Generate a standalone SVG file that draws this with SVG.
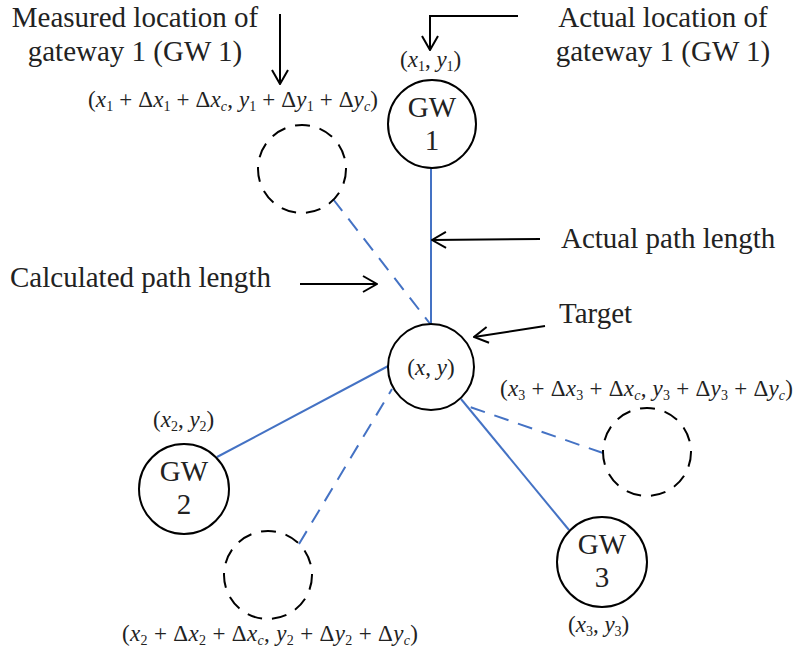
<svg xmlns="http://www.w3.org/2000/svg" width="795" height="653" viewBox="0 0 795 653">
<defs>
<style>
.t{font-family:"Liberation Serif","Times New Roman",serif;font-size:29px;fill:#222}
.m{font-family:"Liberation Serif","Times New Roman",serif;font-size:23px;fill:#222}
.i{font-style:italic}
.s{font-size:14px}
.node{fill:#fff;stroke:#000;stroke-width:2}
.ghost{fill:none;stroke:#000;stroke-width:2;stroke-dasharray:15 10}
.solid{stroke:#4472C4;stroke-width:2;fill:none}
.dash{stroke:#4472C4;stroke-width:2;fill:none;stroke-dasharray:15 10}
.arr{stroke:#000;stroke-width:2;fill:none;marker-end:url(#ah)}
</style>
<marker id="ah" viewBox="0 0 16 20" refX="15" refY="10" markerWidth="16" markerHeight="20" markerUnits="userSpaceOnUse" orient="auto">
<path d="M1,2 L15,10 L1,18" fill="none" stroke="#000" stroke-width="2"/>
</marker>
</defs>
<rect width="795" height="653" fill="#fff"/>

<g id="connectors">
<line class="solid" x1="431" y1="167" x2="431" y2="325"/>
<line class="dash" x1="333" y1="199" x2="431" y2="325"/>
<line class="solid" x1="217" y1="457" x2="392" y2="364"/>
<line class="dash" x1="299" y1="544" x2="392" y2="389"/>
<line class="solid" x1="569" y1="530" x2="461" y2="399"/>
<line class="dash" x1="603" y1="453" x2="470" y2="407"/>
</g>

<g id="annotations">
<line class="arr" x1="280" y1="14" x2="280" y2="84"/>
<polyline class="arr" points="518,16 430,16 430,50"/>
<line class="arr" x1="540" y1="239" x2="432" y2="240"/>
<line class="arr" x1="300" y1="284" x2="377" y2="284"/>
<line class="arr" x1="545" y1="326" x2="474" y2="337"/>
<text class="t" x="135" y="27" text-anchor="middle">Measured location of</text>
<text class="t" x="135" y="61" text-anchor="middle">gateway 1 (GW 1)</text>
<text class="t" x="663" y="27" text-anchor="middle">Actual location of</text>
<text class="t" x="663" y="61" text-anchor="middle">gateway 1 (GW 1)</text>
<text class="t" x="561" y="248">Actual path length</text>
<text class="t" x="10" y="287">Calculated path length</text>
<text class="t" x="559" y="323">Target</text>
</g>

<g id="gw1">
<circle class="node" cx="432" cy="124" r="44"/>
<text class="t" x="432" y="117" text-anchor="middle">GW</text>
<text class="t" x="432" y="150" text-anchor="middle">1</text>
<text class="m" x="400" y="67">(<tspan class="i">x</tspan><tspan class="s" dy="4">1</tspan><tspan dy="-4">, </tspan><tspan class="i">y</tspan><tspan class="s" dy="4">1</tspan><tspan dy="-4">)</tspan></text>
</g>

<g id="gw1-measured">
<circle class="ghost" cx="302" cy="169" r="44"/>
<text class="m" x="88" y="107" textLength="290" lengthAdjust="spacing">(<tspan class="i">x</tspan><tspan class="s" dy="4">1</tspan><tspan dy="-4"> + Δ</tspan><tspan class="i">x</tspan><tspan class="s" dy="4">1</tspan><tspan dy="-4"> + Δ</tspan><tspan class="i">x</tspan><tspan class="i s" dy="4">c</tspan><tspan dy="-4">, </tspan><tspan class="i">y</tspan><tspan class="s" dy="4">1</tspan><tspan dy="-4"> + Δ</tspan><tspan class="i">y</tspan><tspan class="s" dy="4">1</tspan><tspan dy="-4"> + Δ</tspan><tspan class="i">y</tspan><tspan class="i s" dy="4">c</tspan><tspan dy="-4">)</tspan></text>
</g>

<g id="target">
<circle class="node" cx="431" cy="367" r="43"/>
<text class="m" x="431" y="375" text-anchor="middle">(<tspan class="i">x</tspan>, <tspan class="i">y</tspan>)</text>
</g>

<g id="gw2">
<circle class="node" cx="184" cy="489" r="45"/>
<text class="t" x="184" y="481" text-anchor="middle">GW</text>
<text class="t" x="184" y="514" text-anchor="middle">2</text>
<text class="m" x="153" y="427">(<tspan class="i">x</tspan><tspan class="s" dy="4">2</tspan><tspan dy="-4">, </tspan><tspan class="i">y</tspan><tspan class="s" dy="4">2</tspan><tspan dy="-4">)</tspan></text>
</g>

<g id="gw2-measured">
<circle class="ghost" cx="268" cy="575" r="44"/>
<text class="m" x="122" y="641" textLength="296" lengthAdjust="spacing">(<tspan class="i">x</tspan><tspan class="s" dy="4">2</tspan><tspan dy="-4"> + Δ</tspan><tspan class="i">x</tspan><tspan class="s" dy="4">2</tspan><tspan dy="-4"> + Δ</tspan><tspan class="i">x</tspan><tspan class="i s" dy="4">c</tspan><tspan dy="-4">, </tspan><tspan class="i">y</tspan><tspan class="s" dy="4">2</tspan><tspan dy="-4"> + Δ</tspan><tspan class="i">y</tspan><tspan class="s" dy="4">2</tspan><tspan dy="-4"> + Δ</tspan><tspan class="i">y</tspan><tspan class="i s" dy="4">c</tspan><tspan dy="-4">)</tspan></text>
</g>

<g id="gw3">
<circle class="node" cx="602" cy="562" r="45"/>
<text class="t" x="602" y="554" text-anchor="middle">GW</text>
<text class="t" x="602" y="587" text-anchor="middle">3</text>
<text class="m" x="568" y="632">(<tspan class="i">x</tspan><tspan class="s" dy="4">3</tspan><tspan dy="-4">, </tspan><tspan class="i">y</tspan><tspan class="s" dy="4">3</tspan><tspan dy="-4">)</tspan></text>
</g>

<g id="gw3-measured">
<circle class="ghost" cx="647" cy="452" r="44"/>
<text class="m" x="500" y="396" textLength="293" lengthAdjust="spacing">(<tspan class="i">x</tspan><tspan class="s" dy="4">3</tspan><tspan dy="-4"> + Δ</tspan><tspan class="i">x</tspan><tspan class="s" dy="4">3</tspan><tspan dy="-4"> + Δ</tspan><tspan class="i">x</tspan><tspan class="i s" dy="4">c</tspan><tspan dy="-4">, </tspan><tspan class="i">y</tspan><tspan class="s" dy="4">3</tspan><tspan dy="-4"> + Δ</tspan><tspan class="i">y</tspan><tspan class="s" dy="4">3</tspan><tspan dy="-4"> + Δ</tspan><tspan class="i">y</tspan><tspan class="i s" dy="4">c</tspan><tspan dy="-4">)</tspan></text>
</g>
</svg>
